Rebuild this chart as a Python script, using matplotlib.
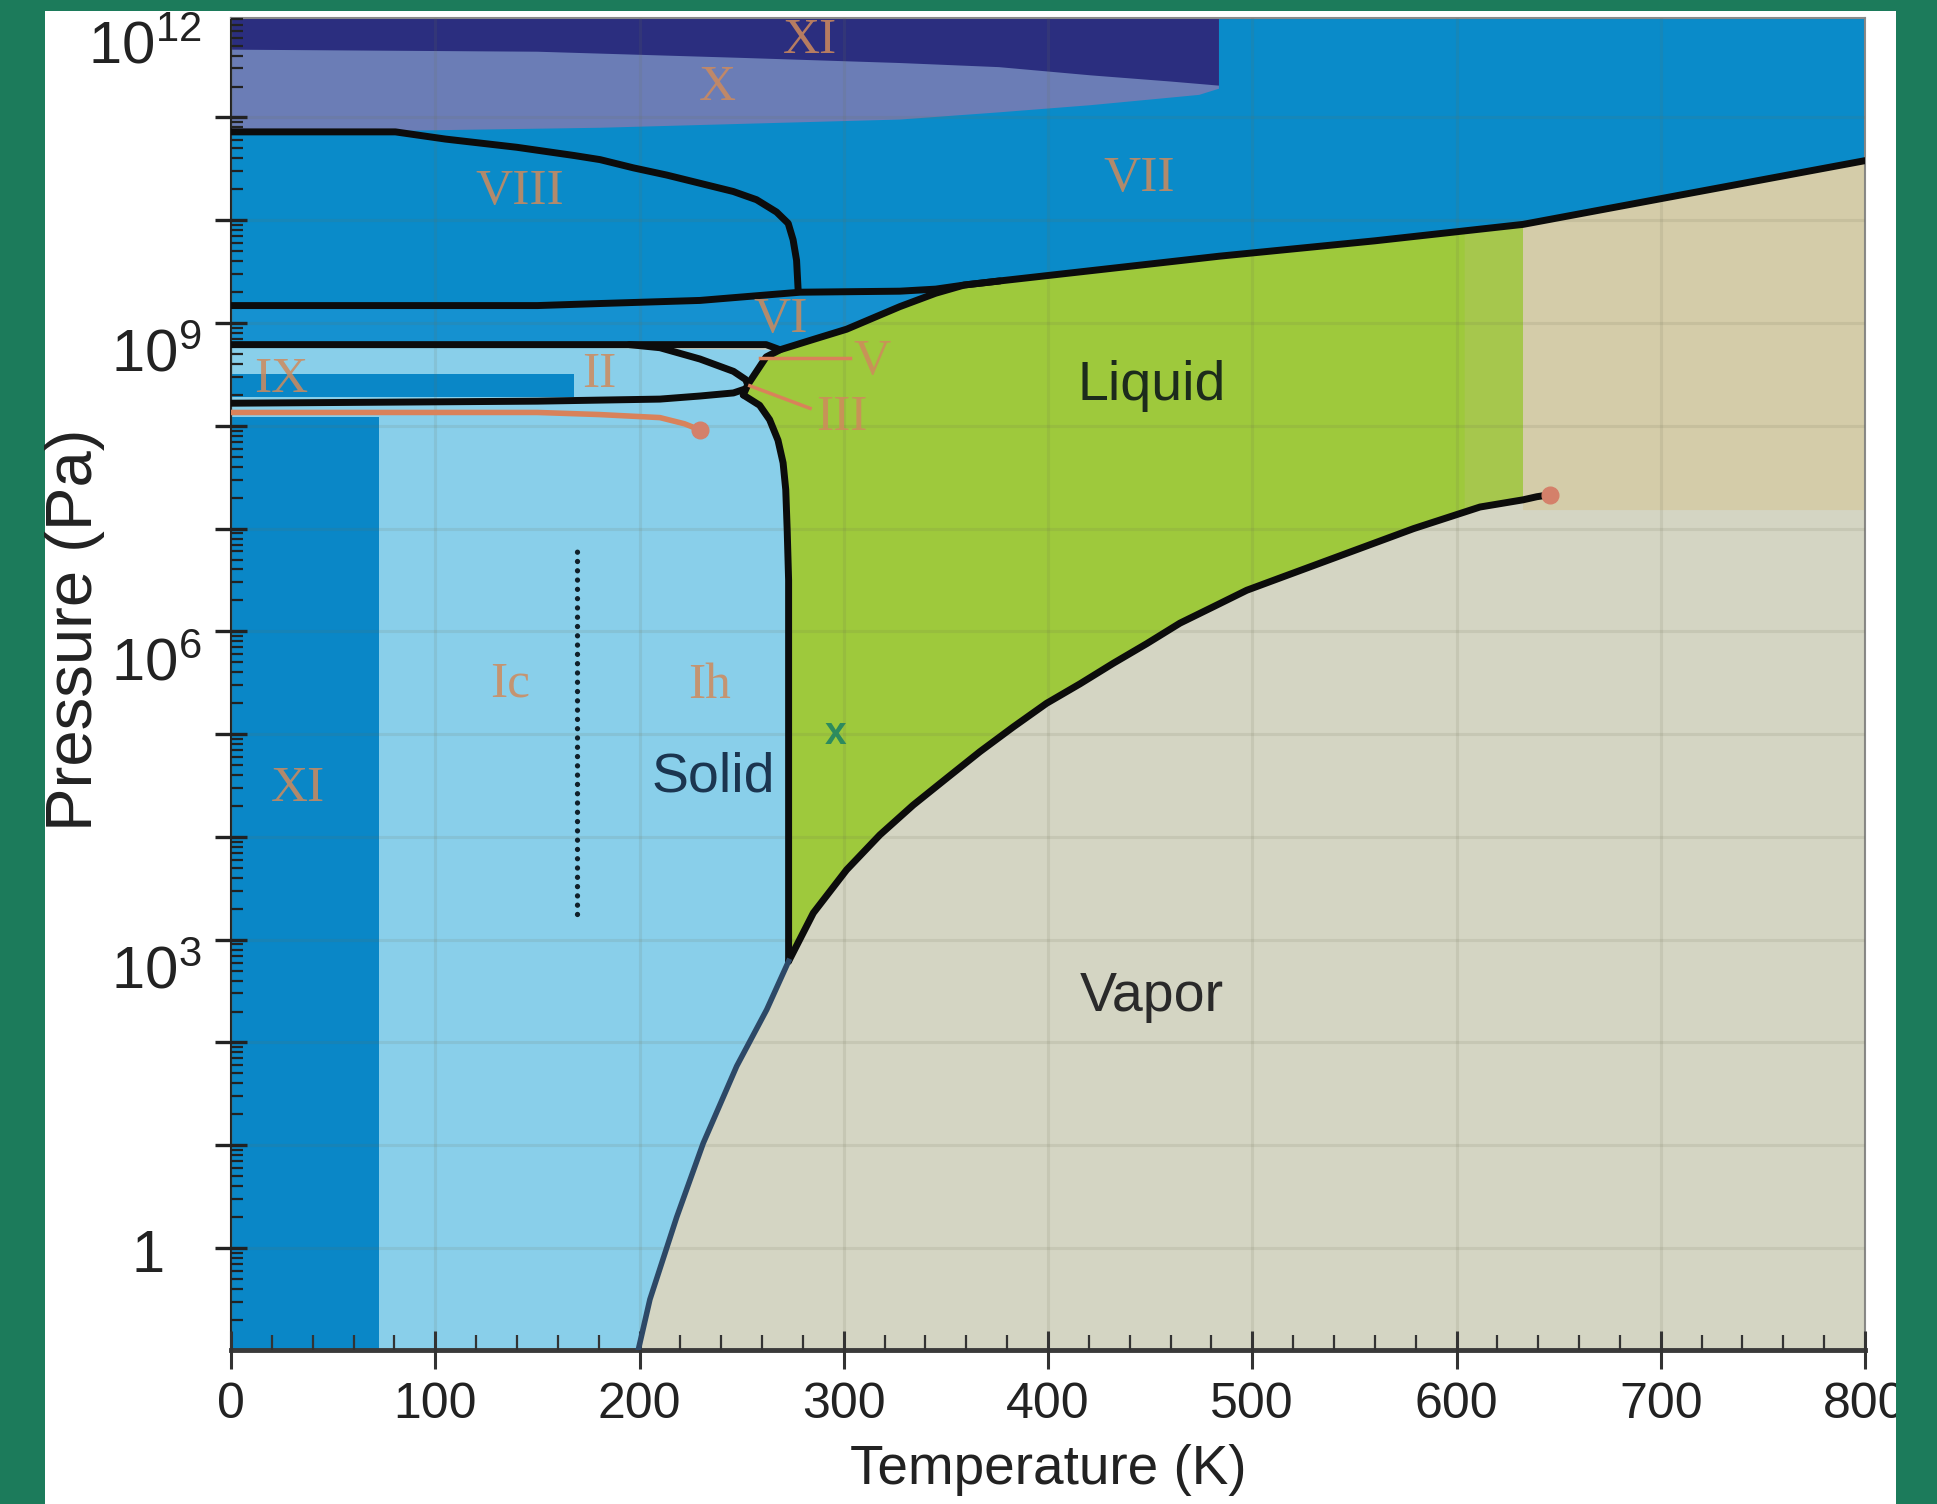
import numpy as np
import matplotlib
matplotlib.use("Agg")
import matplotlib.pyplot as plt
import matplotlib.transforms as mtransforms
from matplotlib.patches import Rectangle
from matplotlib.ticker import FixedLocator, MultipleLocator, NullFormatter

plt.rcParams['font.family'] = ['Liberation Sans', 'DejaVu Sans']
plt.rcParams['mathtext.fontset'] = 'custom'
plt.rcParams['mathtext.rm'] = 'Liberation Sans'
plt.rcParams['mathtext.it'] = 'Liberation Sans:italic'
plt.rcParams['mathtext.bf'] = 'Liberation Sans:bold'

# ---------------- data (T in K, log10 of P in Pa) ----------------
sub_T = [199.3, 205.1, 218.2, 231.2, 247.6, 262.3, 273.0]
sub_logP = [-1.0, -0.5, 0.3, 1.02, 1.77, 2.32, 2.79]

vap_T = [273.0, 285.1, 301.4, 317.7, 334, 350.3, 366.7, 383, 399.3, 415.7, 432, 448.3,
         464.6, 481, 497.3, 513.6, 546.3, 579, 611.5, 632.6, 639.3, 645.8]
vap_logP = [2.79, 3.26, 3.68, 4.02, 4.31, 4.57, 4.83, 5.07, 5.30, 5.49, 5.69, 5.88,
            6.08, 6.24, 6.40, 6.52, 6.76, 7.00, 7.21, 7.28, 7.31, 7.33]

melt_T = [273.0, 273.0, 272.3, 271.6, 270.3, 267.8, 263.7, 258.8, 250.8]
melt_logP = [2.79, 6.50, 6.99, 7.38, 7.64, 7.86, 8.06, 8.20, 8.30]

IIlow_T = [0, 150, 210, 229.6, 246, 252]
IIlow_logP = [8.22, 8.24, 8.26, 8.29, 8.32, 8.36]
IIup_T = [195, 210, 229.6, 246, 252, 253]
IIup_logP = [8.79, 8.76, 8.65, 8.53, 8.45, 8.40]

VIlow_T = [0, 262, 268.8]
VIlow_logP = [8.79, 8.79, 8.74]
VIliq_T = [250.8, 253, 258, 262, 268.8, 285, 301.4, 327.5, 345, 359, 376.5]
VIliq_logP = [8.30, 8.40, 8.55, 8.67, 8.74, 8.84, 8.94, 9.16, 9.29, 9.37, 9.41]
VIup_T = [0, 150, 180.7, 229.6, 254, 278.6, 327.5, 345, 359, 376.5]
VIup_logP = [9.17, 9.17, 9.19, 9.22, 9.26, 9.30, 9.31, 9.33, 9.37, 9.41]
VII_T = [376.5, 483.7, 560, 632.6, 700, 800]
VII_logP = [9.41, 9.65, 9.80, 9.96, 10.21, 10.58]

VIII_T = [0, 80.5, 105, 140, 168, 180.7, 197, 213.3, 229.6, 245.9, 257.3, 267.1,
          272.8, 275.2, 276.9, 277.7]
VIII_logP = [10.86, 10.86, 10.79, 10.71, 10.63, 10.59, 10.51, 10.44, 10.36, 10.28, 10.20,
             10.08, 9.97, 9.81, 9.61, 9.31]

navy_bot_T = [0, 150, 250, 327.5, 376, 421, 460, 483.7]
navy_bot_logP = [11.66, 11.64, 11.58, 11.53, 11.49, 11.41, 11.35, 11.31]
X_bot_T = [0, 80, 180.7, 327.5, 376, 421, 474, 483.7]
X_bot_logP = [10.87, 10.87, 10.90, 10.98, 11.05, 11.12, 11.22, 11.28]

IX_T = [0, 168]
IX_logP = [8.28, 8.50]
XIlow_T = [0, 72.7]
XIlow_logP = [-1.5, 8.09]

super_T = [632.6, 800]
super_logP_bottom = 7.18

orange_T = [0, 100, 150, 180, 210, 222, 229.6]
orange_logP = [8.13, 8.13, 8.13, 8.11, 8.08, 8.02, 7.96]
crit_T, crit_logP = 645.8, 7.33

dotted_T = 169.2
dotted_logP = [3.25, 6.83]

V_line_T = [259, 303]
V_line_logP = [8.66, 8.66]
III_line_T = [254, 283.5]
III_line_logP = [8.39, 8.17]

roman_labels = [("XI", 283.5, 11.75), ("X", 238, 11.29), ("VIII", 141.5, 10.28),
                ("VII", 444.5, 10.40), ("VI", 269, 9.03), ("V", 314, 8.62),
                ("III", 299, 8.08), ("II", 180.5, 8.50), ("IX", 24.4, 8.45),
                ("Ic", 136.6, 5.49), ("Ih", 234.5, 5.47), ("XI", 33, 4.47)]
phase_labels = [("Liquid", 451, 8.39, '#1c2b1c'), ("Solid", 236, 4.58, '#1b3550'),
                ("Vapor", 451, 2.44, '#2a2a2a')]

x_ticks = [0, 100, 200, 300, 400, 500, 600, 700, 800]
y_label_exp = [0, 3, 6, 9, 12]
y_label_text = ['1', '$10^{3}$', '$10^{6}$', '$10^{9}$', '$10^{12}$']

# ---------------- colours ----------------
c_green_bg = '#1c7b5b'
c_vapor = '#d4d5c3'
c_super = '#d4cca9'
c_liquid = '#9ec93c'
c_light = '#89cfea'
c_blue = '#0a8bc9'
c_blueVI = '#1591d0'
c_navy = '#2b2e7f'
c_X = '#6b7db6'
c_orange = '#d9825a'
c_label = '#cf8a5c'

P = lambda a: 10.0 ** np.asarray(a, dtype=float)

W, H = 1937, 1504
fig = plt.figure(figsize=(W / 100, H / 100), dpi=100, facecolor=c_green_bg)
fig.add_artist(Rectangle((45 / W, 0), (1896 - 45) / W, (H - 11) / H,
                         transform=fig.transFigure, facecolor='white',
                         edgecolor='none', zorder=-5))
ax = fig.add_axes([231 / W, 1 - 1350 / H, (1865 - 231) / W, 1332 / H])
ax.set_facecolor(c_vapor)
ax.set_yscale('log')
ax.set_xlim(0, 800)
ax.set_ylim(10 ** -0.992, 10 ** 11.968)

TOP = 12.5

# light blue solid (Ih / Ic / II area)
lt_T = [0, 199.3] + sub_T + melt_T[1:] + VIliq_T[1:5] + [0]
lt_L = [-1.5, -1.5] + sub_logP + melt_logP[1:] + VIliq_logP[1:5] + [8.79]
ax.fill(lt_T, P(lt_L), color=c_light, lw=0, zorder=1)

# liquid
vmask = [i for i, t in enumerate(vap_T) if t <= super_T[0]]
liq_T = melt_T + VIliq_T[1:] + VII_T[1:4] + [vap_T[i] for i in vmask][::-1]
liq_L = melt_logP + VIliq_logP[1:] + VII_logP[1:4] + [vap_logP[i] for i in vmask][::-1]
ax.fill(liq_T, P(liq_L), color=c_liquid, lw=0, zorder=1)
# lighter fringe at the supercritical edge
ax.fill([604, 632.6, 632.6, 604], P([7.17, 7.28, 9.96, 9.90]),
        color='#aec65c', lw=0, zorder=1, alpha=0.55)

# supercritical
sc_T = [super_T[0], super_T[1]] + VII_T[3:][::-1]
sc_L = [super_logP_bottom, super_logP_bottom] + VII_logP[3:][::-1]
ax.fill(sc_T, P(sc_L), color=c_super, lw=0, zorder=1)

# high-pressure blue (VI, VII, VIII)
bl_T = VIlow_T + VIliq_T[5:] + VII_T[1:] + [800, 0]
bl_L = VIlow_logP + VIliq_logP[5:] + VII_logP[1:] + [TOP, TOP]
ax.fill(bl_T, P(bl_L), color=c_blue, lw=0, zorder=1)
vi_T = VIlow_T + VIliq_T[5:] + VIup_T[::-1]
vi_L = VIlow_logP + VIliq_logP[5:] + VIup_logP[::-1]
ax.fill(vi_T, P(vi_L), color=c_blueVI, lw=0, zorder=1)

# X and XI (top)
x_T = [0, X_bot_T[-1]] + X_bot_T[::-1]
x_L = [TOP, TOP] + X_bot_logP[::-1]
ax.fill(x_T, P(x_L), color=c_X, lw=0, zorder=1)
n_T = [0, navy_bot_T[-1]] + navy_bot_T[::-1]
n_L = [TOP, TOP] + navy_bot_logP[::-1]
ax.fill(n_T, P(n_L), color=c_navy, lw=0, zorder=1)

# IX and XI rectangles
ax.fill([IX_T[0], IX_T[1], IX_T[1], IX_T[0]], P([IX_logP[0], IX_logP[0], IX_logP[1], IX_logP[1]]),
        color='#0a87c7', lw=0, zorder=1)
ax.fill([XIlow_T[0], XIlow_T[1], XIlow_T[1], XIlow_T[0]],
        P([XIlow_logP[0], XIlow_logP[0], XIlow_logP[1], XIlow_logP[1]]),
        color='#0a87c7', lw=0, zorder=1)

# grid
ax.set_axisbelow(False)
ax.grid(True, which='major', color='#6e6e50', alpha=0.13, lw=2.2)

# boundary lines
blk = dict(color='#0c0c0c', lw=5, solid_capstyle='round', solid_joinstyle='round', zorder=4)
ax.plot(VIII_T, P(VIII_logP), **blk)
ax.plot(VIup_T + VII_T[1:], P(VIup_logP + VII_logP[1:]), **blk)
ax.plot(VIlow_T, P(VIlow_logP), **blk)
ax.plot(VIliq_T, P(VIliq_logP), **blk)
ax.plot(IIup_T, P(IIup_logP), **blk)
ax.plot(IIlow_T, P(IIlow_logP), **blk)
ax.plot(melt_T, P(melt_logP), **blk)
ax.plot(vap_T, P(vap_logP), **blk)
ax.plot(sub_T, P(sub_logP), color='#2d4866', lw=4, zorder=4, solid_joinstyle='round')

ax.plot(orange_T, P(orange_logP), color=c_orange, lw=4, zorder=5, solid_capstyle='round')
ax.plot([orange_T[-1]], P([orange_logP[-1]]), 'o', color='#d4806a', ms=12, zorder=6)
ax.plot([crit_T], P([crit_logP]), 'o', color='#d4806a', ms=12, zorder=6)
ax.plot(V_line_T, P(V_line_logP), color=c_orange, lw=2.5, zorder=5)
ax.plot(III_line_T, P(III_line_logP), color=c_orange, lw=2.5, zorder=5)

ax.plot([dotted_T, dotted_T], P(dotted_logP), color='#10202a', lw=3.8,
        linestyle=(0, (0.01, 1.75)), dash_capstyle='round', zorder=4)

# labels
for txt, t, lp in roman_labels:
    ax.text(t, 10 ** lp, txt, family=['Liberation Serif', 'DejaVu Serif'], fontsize=37,
            color=c_label, alpha=0.85, ha='center', va='center', zorder=7)
for txt, t, lp, c in phase_labels:
    ax.text(t, 10 ** lp, txt, fontsize=40, color=c, ha='center', va='center', zorder=7)
ax.text(296, 10 ** 5.0, 'x', fontsize=28, fontweight='bold', color='#2d8b5e',
        ha='center', va='center', zorder=7)

# ticks
ax.xaxis.set_major_locator(FixedLocator(x_ticks))
ax.xaxis.set_minor_locator(MultipleLocator(20))
ax.set_xticklabels([str(v) for v in x_ticks])
ax.tick_params(axis='x', which='major', direction='inout', length=28, width=2.2,
               color='#333333', labelsize=36, labelcolor='#222222', pad=9)
ax.tick_params(axis='x', which='minor', direction='in', length=11, width=1.6, color='#333333')

dec = np.arange(0, 12 + 1)
ax.yaxis.set_major_locator(FixedLocator(P(dec)))
minors = [m * 10.0 ** d for d in range(-1, 12) for m in range(2, 10)]
ax.yaxis.set_minor_locator(FixedLocator(minors))
ax.yaxis.set_major_formatter(NullFormatter())
ax.yaxis.set_minor_formatter(NullFormatter())
ax.tick_params(axis='y', which='major', direction='inout', length=23, width=2.4, color='#222222')
ax.tick_params(axis='y', which='minor', direction='in', length=8.5, width=1.6, color='#222222')

trans = mtransforms.blended_transform_factory(fig.transFigure, ax.transData)
for e, txt in zip(y_label_exp, y_label_text):
    if txt == '1':
        tr = mtransforms.offset_copy(trans, fig=fig, x=0, y=-6, units='points')
        xpos = 165 / W
    else:
        tr = mtransforms.offset_copy(trans, fig=fig, x=0, y=-24, units='points')
        xpos = 201 / W
    ax.text(xpos, 10.0 ** e, txt, transform=tr, fontsize=43, color='#222222',
            ha='right', va='center', clip_on=False)

for s in ['top', 'right']:
    ax.spines[s].set_color('#8a8a8a')
    ax.spines[s].set_linewidth(1.5)
ax.spines['left'].set_color('#222222')
ax.spines['left'].set_linewidth(1.5)
ax.spines['bottom'].set_color('#3a3a3a')
ax.spines['bottom'].set_linewidth(3.5)

fig.text(1048 / W, 1 - 1470 / H, 'Temperature (K)', fontsize=39.5, color='#222222',
         ha='center', va='center')
fig.text(75 / W, 1 - 630 / H, 'Pressure (Pa)', fontsize=47, color='#222222',
         rotation=90, ha='center', va='center')

fig.add_artist(Rectangle((1896 / W, 0), (W - 1896) / W, 1, transform=fig.transFigure,
                         facecolor=c_green_bg, edgecolor='none', zorder=10))

fig.savefig('out.png', dpi=100, facecolor=fig.get_facecolor())
